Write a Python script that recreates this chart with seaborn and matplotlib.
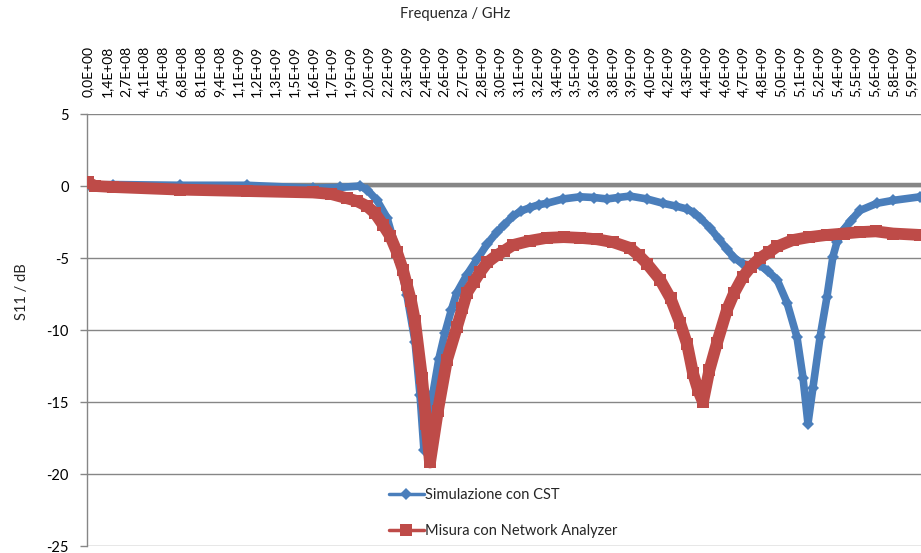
import numpy as np
import pandas as pd
import matplotlib
matplotlib.use("Agg")
import matplotlib.pyplot as plt
import seaborn as sns
from matplotlib.lines import Line2D

# ---- data (frequency in GHz, S11 in dB) ----
sim_freq = [0.0, 0.18, 0.663, 1.146, 1.622, 1.817, 1.961, 2.012, 2.084, 2.156,
            2.25, 2.300, 2.358, 2.394, 2.422, 2.451, 2.487, 2.53, 2.574, 2.62,
            2.660, 2.73, 2.805, 2.88, 2.949, 3.0, 3.064, 3.12, 3.187, 3.25,
            3.309, 3.425, 3.547, 3.65, 3.742, 3.82, 3.908, 4.03, 4.146, 4.24,
            4.319, 4.37, 4.412, 4.484, 4.55, 4.607, 4.66, 4.722, 4.78, 4.845,
            4.90, 4.968, 5.040, 5.112, 5.155, 5.191, 5.227, 5.278, 5.328, 5.371,
            5.40, 5.443, 5.50, 5.566, 5.689, 5.804, 6.0]
sim_s11 = [0.05, 0.1, 0.05, 0.05, -0.15, -0.1, 0.0, -0.25, -1.0, -2.2,
           -5.3, -7.6, -10.8, -14.5, -18.3, -16.0, -14.4, -12.0, -10.2, -8.6,
           -7.4, -6.2, -5.1, -4.0, -3.2, -2.7, -2.1, -1.75, -1.5, -1.3,
           -1.2, -0.9, -0.75, -0.8, -0.9, -0.8, -0.7, -0.9, -1.2, -1.4,
           -1.6, -1.85, -2.2, -2.9, -3.7, -4.4, -5.0, -5.4, -5.5, -5.5,
           -5.9, -6.5, -8.1, -10.5, -13.3, -16.5, -14.0, -10.5, -7.7, -4.9,
           -3.9, -3.1, -2.4, -1.7, -1.2, -1.0, -0.75]

meas_freq = [0.0, 0.05, 0.18, 0.663, 1.146, 1.622, 1.75, 1.867, 1.94, 2.012,
             2.07, 2.127, 2.18, 2.228, 2.27, 2.300, 2.33, 2.358, 2.408, 2.44,
             2.466, 2.523, 2.588, 2.660, 2.70, 2.733, 2.78, 2.826, 2.88, 2.949,
             3.0, 3.064, 3.19, 3.309, 3.43, 3.547, 3.67, 3.785, 3.908, 3.97,
             4.031, 4.124, 4.20, 4.269, 4.32, 4.362, 4.40, 4.434, 4.48, 4.535,
             4.607, 4.66, 4.722, 4.78, 4.845, 4.91, 4.968, 5.083, 5.2, 5.328,
             5.45, 5.566, 5.68, 5.804, 6.0]
meas_s11 = [0.25, 0.0, -0.07, -0.25, -0.35, -0.45, -0.55, -0.85, -1.05, -1.4,
            -1.9, -2.7, -3.5, -4.6, -5.8, -6.9, -8.0, -9.4, -13.3, -16.5,
            -19.2, -15.6, -12.1, -9.8, -8.5, -7.4, -6.7, -6.0, -5.3, -4.8,
            -4.5, -4.1, -3.8, -3.6, -3.55, -3.6, -3.7, -3.9, -4.3, -4.8,
            -5.4, -6.5, -7.8, -9.5, -11.0, -13.0, -14.2, -15.0, -12.8, -10.9,
            -8.6, -7.4, -6.3, -5.6, -5.0, -4.6, -4.2, -3.75, -3.55, -3.4,
            -3.3, -3.2, -3.15, -3.3, -3.4]

tick_labels = ["0,0E+00", "1,4E+08", "2,7E+08", "4,1E+08", "5,4E+08", "6,8E+08",
               "8,1E+08", "9,4E+08", "1,1E+09", "1,2E+09", "1,3E+09", "1,5E+09",
               "1,6E+09", "1,7E+09", "1,9E+09", "2,0E+09", "2,2E+09", "2,3E+09",
               "2,4E+09", "2,6E+09", "2,7E+09", "2,8E+09", "3,0E+09", "3,1E+09",
               "3,2E+09", "3,4E+09", "3,5E+09", "3,6E+09", "3,8E+09", "3,9E+09",
               "4,0E+09", "4,2E+09", "4,3E+09", "4,4E+09", "4,6E+09", "4,7E+09",
               "4,8E+09", "5,0E+09", "5,1E+09", "5,2E+09", "5,4E+09", "5,5E+09",
               "5,6E+09", "5,8E+09", "5,9E+09"]
tick_step = 0.135  # GHz between labelled categories

sim_label = "Simulazione con CST"
meas_label = "Misura con Network Analyzer"

sns.set_theme(style="white")
plt.rcParams['font.family'] = ['Lato', 'DejaVu Sans']
plt.rcParams['axes.unicode_minus'] = False

BLUE = "#4A7EBB"
RED = "#BE4B48"
GRAY = "#868686"

fig = plt.figure(figsize=(9.21, 5.53), dpi=100)
ax = fig.add_axes([87/921, 1-546/553, 1-87/921, (546-114)/553])

ax.axhline(0.1, color=GRAY, lw=3.2, zorder=1)

sns.lineplot(x=meas_freq, y=meas_s11, ax=ax, color=RED, linewidth=8.5, marker="s",
             markersize=8.5, markeredgewidth=0, sort=False, zorder=3,
             solid_joinstyle="round", solid_capstyle="butt")
sns.lineplot(x=sim_freq, y=sim_s11, ax=ax, color=BLUE, linewidth=5.5, marker="D",
             markersize=6.5, markeredgewidth=0, sort=False, zorder=2,
             solid_joinstyle="round", solid_capstyle="butt")

ax.set_xlim(-0.007, 6.006)
ax.set_ylim(-25, 5)
ax.set_yticks([5, 0, -5, -10, -15, -20, -25])
ax.yaxis.grid(True, color=GRAY, lw=1)
ax.xaxis.grid(False)
ax.set_axisbelow(True)

ticks = np.arange(len(tick_labels)) * tick_step
ax.set_xticks(ticks)
ax.set_xticklabels(tick_labels, rotation=90, fontsize=10, color="black")
ax.xaxis.set_ticks_position("top")
ax.tick_params(axis="x", length=0, pad=12)
ax.tick_params(axis="y", left=True, length=5, width=1, color=GRAY,
               labelsize=10.5, pad=8, labelcolor="black")

for s in ["right", "bottom", "top"]:
    ax.spines[s].set_visible(False)
ax.spines["left"].set_color(GRAY)
ax.spines["left"].set_linewidth(1)

ax.set_xlabel("")
ax.set_ylabel("")

fig.text(455/921, 1-14/553, "Frequenza / GHz", ha="center", va="center", fontsize=10.5)
fig.text(22/921, 1-292/553, "S11 / dB", ha="center", va="center", rotation=90, fontsize=10.5)

handles = [Line2D([0], [0], color=BLUE, lw=2.5, marker="D", markersize=6, markeredgewidth=0),
           Line2D([0], [0], color=RED, lw=2.5, marker="s", markersize=8, markeredgewidth=0)]
leg = ax.legend(handles, [sim_label, meas_label], loc="upper left",
                frameon=False, fontsize=10.5, labelspacing=1.55,
                handlelength=2.4, handletextpad=0.1, borderaxespad=0)
leg.set_bbox_to_anchor(((383-87)/834, 1 - (482-114)/432), transform=ax.transAxes)

fig.savefig("out.png", dpi=100)
